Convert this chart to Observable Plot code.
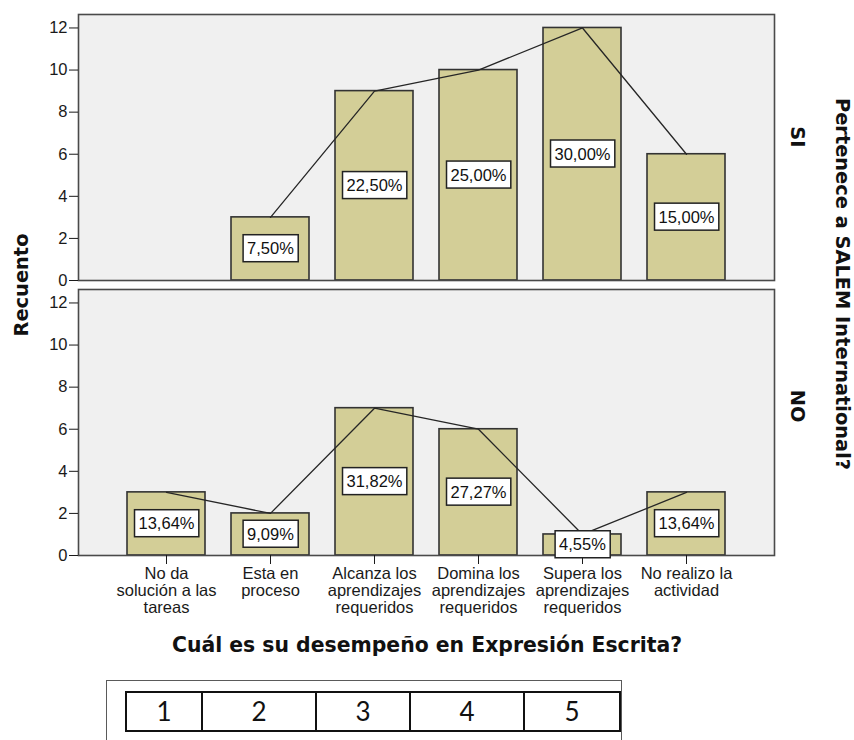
<!DOCTYPE html>
<html><head><meta charset="utf-8">
<script src="https://cdn.jsdelivr.net/npm/d3@7"></script>
<script src="https://cdn.jsdelivr.net/npm/@observablehq/plot@0.6"></script>
<style>
body{margin:0;background:#fff;}
#wrap{position:relative;width:854px;height:740px;overflow:hidden;background:#fff;}
#chart svg{display:block;}
#tbox{position:absolute;left:106px;top:680px;width:516px;height:90px;border:1px solid #5a5a5a;box-sizing:border-box;background:#fff;}
#tbl{position:absolute;left:125px;top:691px;width:494px;table-layout:fixed;border-collapse:collapse;font-family:Lato,'Open Sans',sans-serif;font-size:26px;color:#111;}
#tbl td{border:2px solid #111;height:37px;padding:0;text-align:center;vertical-align:middle;line-height:37px;}
</style></head><body><div id="wrap"><div id="chart"></div><div id="tbox"></div><table id="tbl"><colgroup></colgroup><tr></tr></table></div>
<script>
const categories = ["No da solución a las tareas","Esta en proceso","Alcanza los aprendizajes requeridos","Domina los aprendizajes requeridos","Supera los aprendizajes requeridos","No realizo la actividad"];
const tickLabels = ["No da\nsolución a las\ntareas","Esta en\nproceso","Alcanza los\naprendizajes\nrequeridos","Domina los\naprendizajes\nrequeridos","Supera los\naprendizajes\nrequeridos","No realizo la\nactividad"];
const groups = ["SI","NO"];
const countsSI = [null,3,9,10,12,6];
const countsNO = [3,2,7,6,1,3];
const pctSI = [null,"7,50%","22,50%","25,00%","30,00%","15,00%"];
const pctNO = ["13,64%","9,09%","31,82%","27,27%","4,55%","13,64%"];
const yTicks = [0,2,4,6,8,10,12];
const yTitle = "Recuento";
const xTitle = "Cuál es su desempeño en Expresión Escrita?";
const fyTitle = "Pertenece a SALEM International?";
const tableLabels = ["1","2","3","4","5"];
const tableWidths = [76,114,94,114,96];

const rows = [];
categories.forEach((c,i)=>{
  if (countsSI[i] != null) rows.push({cat:c, group:"SI", count:countsSI[i], pct:pctSI[i]});
});
categories.forEach((c,i)=>{
  if (countsNO[i] != null) rows.push({cat:c, group:"NO", count:countsNO[i], pct:pctNO[i]});
});

const plot = Plot.plot({
  width: 854, height: 665,
  marginTop: 14, marginLeft: 78, marginRight: 80, marginBottom: 109,
  style: {fontFamily: "'Liberation Sans', Arial, sans-serif", fontSize: "16.5px", color: "#1a1a1a", background: "transparent"},
  x: {domain: categories, paddingInner: 0.25, paddingOuter: 0.458, axis: null},
  y: {domain: [0, 12.64], axis: null},
  fy: {domain: groups, paddingInner: 0.0327, paddingOuter: 0, axis: null},
  marks: [
    Plot.frame({fill: "#f0f0f0", stroke: "none"}),
    Plot.barY(rows, {x:"cat", y:"count", fy:"group", fill:"#d3ce97", stroke:"#333", strokeWidth:1.6}),
    Plot.line(rows, {x:"cat", y:"count", fy:"group", stroke:"#262626", strokeWidth:1.3}),
    Plot.frame({stroke: "#4a4a4a", strokeWidth: 1.6}),
    Plot.axisY({ticks: yTicks, tickSize: 9, tickPadding: 2, label: null, fontSize: 16.5}),
    Plot.axisX({tickSize: 9, tickPadding: 3, tickFormat: d => tickLabels[categories.indexOf(d)], label: null, lineHeight: 1.02, fontSize: 16.5}),
    Plot.text(rows, {x:"cat", y: d=>d.count/2, fy:"group", text:"pct", fill:"#111", fontSize: 16.5}),
    Plot.text(groups, {fy: d=>d, text: d=>d, frameAnchor:"right", dx: 23, rotate: 90, fontSize: 19.4, fontWeight:"bold", fontFamily:"'DejaVu Sans', sans-serif", fill:"#111"})
  ]
});
document.getElementById("chart").appendChild(plot);

const svg = d3.select(plot);
const pctSet = new Set([...pctSI, ...pctNO].filter(Boolean));
svg.selectAll("text").filter(function(){ return pctSet.has(this.textContent); }).each(function(){
  const b = this.getBBox();
  const cy = b.y + b.height/2;
  const r = document.createElementNS("http://www.w3.org/2000/svg", "rect");
  r.setAttribute("x", b.x - 4); r.setAttribute("y", cy - 13.5);
  r.setAttribute("width", b.width + 8); r.setAttribute("height", 27);
  r.setAttribute("fill", "#fff"); r.setAttribute("stroke", "#222"); r.setAttribute("stroke-width", 1.5);
  const tf = this.getAttribute("transform");
  if (tf) r.setAttribute("transform", tf);
  this.parentNode.insertBefore(r, this);
});

function addText(txt, x, y, rot, size){
  svg.append("text").text(txt)
    .attr("transform", `translate(${x},${y}) rotate(${rot})`)
    .attr("text-anchor","middle").attr("dy","0.35em")
    .attr("font-family","'DejaVu Sans', sans-serif").attr("font-weight","bold")
    .attr("font-size", size + "px").attr("fill","#111");
}
addText(yTitle, 21, 285, -90, 19.4);
addText(fyTitle, 843, 284, 90, 19.4);
addText(xTitle, 427, 645, 0, 20.4);

const cg = d3.select("#tbl colgroup");
const tr = d3.select("#tbl tr");
tableLabels.forEach((l,i)=>{
  cg.append("col").style("width", tableWidths[i]+"px");
  tr.append("td").text(l);
});
</script></body></html>
